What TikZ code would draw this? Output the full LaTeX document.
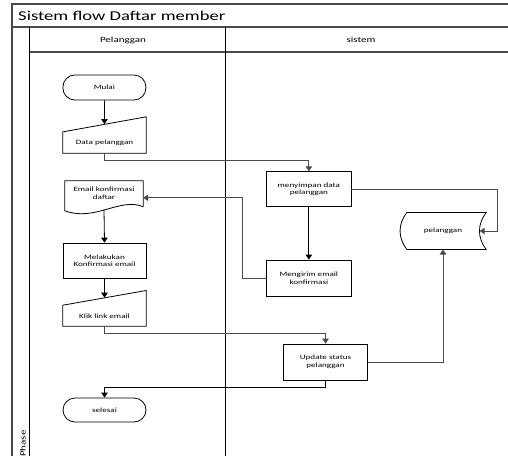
\documentclass[tikz,border=0pt]{standalone}
\usepackage{fontspec}
\setmainfont{Carlito}[FakeStretch=1.38]
\usetikzlibrary{arrows.meta,calc}
\definecolor{frame}{HTML}{4A4A4A}
\begin{document}
\begin{tikzpicture}[x=1pt,y=-1pt,
  frameline/.style={draw=frame,line width=1.1pt},
  laneline/.style={draw=black,line width=1pt},
  shp/.style={draw=black,line width=0.8pt},
  ghost/.style={draw=none,inner sep=0pt,align=center,font=\fontsize{6.6}{7.8}\selectfont},
  boxnode/.style={draw=black,line width=0.8pt,inner sep=0pt,align=center,font=\fontsize{6.6}{7.8}\selectfont},
  termnode/.style={boxnode,rounded corners=12pt},
  txt/.style={inner sep=0pt,align=center,font=\fontsize{6.6}{7.8}\selectfont},
  arr/.style={draw=black,line width=0.8pt,-{Triangle[width=6.5pt,length=5pt]}},
  garr/.style={draw=frame,line width=1pt,-{Triangle[width=6.5pt,length=5pt]}},
  gline/.style={draw=black,line width=0.8pt},
]
\useasboundingbox (0,0) rectangle (508,455);
\clip (0,0) rectangle (508,455);
\fill[white] (0,0) rectangle (508,455);

% frame
\draw[frameline] (12,470) -- (12,4) -- (520,4);
\draw[frameline] (12,27) -- (520,27);
\draw[frameline] (29,52) -- (520,52);
\draw[laneline] (29,27) -- (29,470);
\draw[laneline] (225,27) -- (225,470);
\node[anchor=west,inner sep=0pt,font=\fontsize{13.5}{15}\selectfont] (title) at (18,15.5) {Sistem flow Daftar member};
\node[inner sep=0pt,font=\fontsize{8}{9}\selectfont] (hp) at (123,40) {Pelanggan};
\node[inner sep=0pt,font=\fontsize{8}{9}\selectfont] (hs) at (361,40) {sistem};
\node[rotate=90,anchor=south east,inner sep=0pt,font=\fontsize{8}{9}\selectfont] (phase) at (26,430) {Phase};

% nodes
\node[termnode,minimum width=83pt,minimum height=25pt] (mulai) at (104.4,87.5) {Mulai};

\node[ghost,minimum width=83pt,minimum height=36pt] (data) at (104.5,135) {};
\draw[shp] (data.south west) -- ++(0,-21.3) -- (data.north east) -- (data.south east) -- cycle;
\node[txt] (datat) at ($(data.center)+(0,7.5)$) {Data pelanggan};
\coordinate (datatop) at ($(data.north)+(0,7.3)$);

\node[ghost,minimum width=78pt,minimum height=28.5pt] (email) at (104,195.25) {};
\draw[shp] (email.south east) ++(0,-3) -- (email.north east) -- (email.north west) -- ++(0,30)
  .. controls (95,222) and (120,197) .. ($(email.south east)+(0,-3)$);
\node[txt] (emailt) at (104,193) {Email konfirmasi\\daftar};
\coordinate (emaile) at ($(email.east)+(0,2.5)$);

\node[boxnode,minimum width=83pt,minimum height=35.3pt] (lakukan) at (104.5,260.65) {Melakukan\\Konfirmasi email};

\node[ghost,minimum width=83pt,minimum height=35.3pt] (klik) at (104.5,308.35) {};
\draw[shp] (klik.south west) -- ++(0,-21) -- (klik.north east) -- (klik.south east) -- cycle;
\node[txt] (klikt) at ($(klik.center)+(0,7.4)$) {Klik link email};
\coordinate (kliktop) at ($(klik.north)+(0,7.2)$);

\node[termnode,minimum width=83pt,minimum height=24pt] (selesai) at (104.5,410) {selesai};

\node[boxnode,minimum width=84.3pt,minimum height=35pt] (simpan) at (308.85,189.2) {menyimpan data\\pelanggan};
\node[boxnode,minimum width=84.3pt,minimum height=36pt] (kirim) at (308.85,278) {Mengirim email\\konfirmasi};
\node[boxnode,minimum width=84.4pt,minimum height=36pt] (upd) at (325.5,362) {Update status\\pelanggan};

\node[ghost,minimum width=86pt,minimum height=36.6pt] (stor) at (443,231) {};
\draw[shp] ($(stor.north west)+(7,0)$) -- (stor.north east)
  .. controls ($(stor.north east)+(-9,12)$) and ($(stor.south east)+(-9,-12)$) .. (stor.south east)
  -- ($(stor.south west)+(7,0)$)
  .. controls ($(stor.south west)+(-2,-12)$) and ($(stor.north west)+(-2,12)$) .. ($(stor.north west)+(7,0)$);
\node[txt] (stort) at (443,231) {pelanggan};
\coordinate (store) at ($(stor.east)+(-6.5,0)$);

% connectors
\draw[arr] (mulai.south) -- (datatop);
\draw[garr] (data.south) -- ++(0,7.7) -| (simpan.north);
\draw[arr] (simpan.south) -- (kirim.north);
\draw[garr] (kirim.west) -- ++(-24,0) |- (emaile);
\draw[garr] (simpan.east) -| ($(stor.east)+(11,0)$) -- (store);
\draw[arr] (email.south) -- (lakukan.north);
\draw[arr] (lakukan.south) -- (kliktop);
\draw[garr] (klik.south) -- ++(0,7.7) -| (upd.north);
\draw[garr] (upd.east) -| (stor.south);
\draw[arr] (upd.south) -- ++(0,7.3) -| (selesai.north);
\end{tikzpicture}
\end{document}
